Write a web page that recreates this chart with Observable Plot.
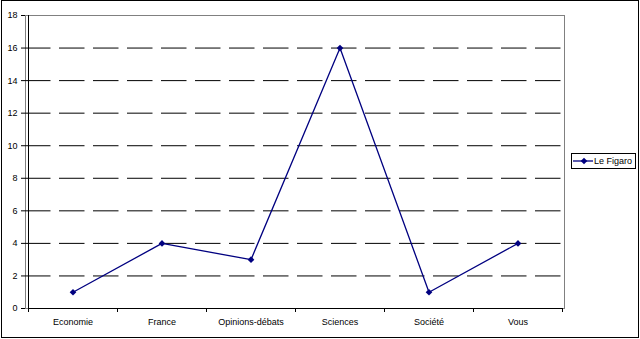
<!DOCTYPE html>
<html><head><meta charset="utf-8">
<script src="https://cdn.jsdelivr.net/npm/d3@7"></script>
<script src="https://cdn.jsdelivr.net/npm/@observablehq/plot@0.6"></script>
<style>
body{margin:0;background:#fff;}
#wrap{position:relative;width:640px;height:339px;font-family:"Liberation Sans",Arial,sans-serif;}
#border{position:absolute;left:1px;top:0;width:638px;height:338px;box-sizing:border-box;border:1px solid #000;pointer-events:none;}
#legend{position:absolute;left:571px;top:153px;width:65px;height:16px;box-sizing:border-box;border:1px solid #000;background:#fff;font-size:9px;display:flex;align-items:center;white-space:nowrap;}
#legend svg{margin-left:1px;margin-right:1px;}
</style></head><body><div id="wrap"><div id="border"></div></div>
<script>
const categories = ["Economie", "France", "Opinions-débats", "Sciences", "Société", "Vous"];
const values = [1, 4, 3, 16, 1, 4];
const yTicks = [0, 2, 4, 6, 8, 10, 12, 14, 16, 18];
const seriesName = "Le Figaro";
const lineColor = "#000080";

const data = categories.map((c, i) => ({category: c, value: values[i]}));
const yMax = yTicks[yTicks.length - 1];
const gridValues = yTicks.filter(v => v > 0 && v < yMax);

function axesMark(...args) {
  const scales = args.find(a => a && typeof a.x === "function" && typeof a.y === "function");
  const ns = "http://www.w3.org/2000/svg";
  const g = document.createElementNS(ns, "g");
  g.setAttribute("stroke", "#000");
  g.setAttribute("fill", "none");
  const x = scales.x, y = scales.y;
  const bw = x.bandwidth();
  const y0 = y(0), yTop = y(yMax);
  const left = x(categories[0]);
  const right = x(categories[categories.length - 1]) + bw;
  const add = (x1, y1, x2, y2) => {
    const l = document.createElementNS(ns, "line");
    l.setAttribute("x1", x1); l.setAttribute("y1", y1);
    l.setAttribute("x2", x2); l.setAttribute("y2", y2);
    g.appendChild(l);
  };
  add(left + 0.5, yTop, left + 0.5, y0 + 0.5);
  add(left, y0 + 0.5, right, y0 + 0.5);
  const bounds = categories.map(c => x(c)).concat([right]);
  for (const b of bounds) add(Math.round(b) + 0.5, y0, Math.round(b) + 0.5, y0 + 4);
  return g;
}

const plot = Plot.plot({
  width: 640,
  height: 339,
  marginLeft: 25,
  marginRight: 76,
  marginTop: 15,
  marginBottom: 31,
  style: {fontFamily: "'Liberation Sans', Arial, sans-serif", fontSize: "9px", background: "transparent", color: "#000"},
  x: {type: "band", domain: categories, padding: 0, label: null},
  y: {domain: [0, yMax], label: null},
  marks: [
    Plot.frame({stroke: "#808080"}),
    Plot.ruleY(gridValues, {stroke: "#000", strokeDasharray: "25.5,8.5"}),
    Plot.axisY({ticks: yTicks, tickSize: 4, tickPadding: 4, label: null, stroke: "#000"}),
    Plot.axisX({tickSize: 0, tickPadding: 10, label: null}),
    axesMark,
    Plot.line(data, {x: "category", y: "value", stroke: lineColor, strokeWidth: 1.3}),
    Plot.dot(data, {x: "category", y: "value", symbol: "diamond2", r: 3, fill: lineColor, stroke: "none"})
  ]
});
const wrap = document.getElementById("wrap");
wrap.insertBefore(plot, wrap.firstChild);

const legend = document.createElement("div");
legend.id = "legend";
legend.innerHTML = `<svg width="20" height="8"><line x1="0" y1="4" x2="20" y2="4" stroke="${lineColor}" stroke-width="1.3"/><path d="M11 0.7 L14.3 4 L11 7.3 L7.7 4 Z" fill="${lineColor}"/></svg><span>${seriesName}</span>`;
wrap.appendChild(legend);
</script>
</body></html>
